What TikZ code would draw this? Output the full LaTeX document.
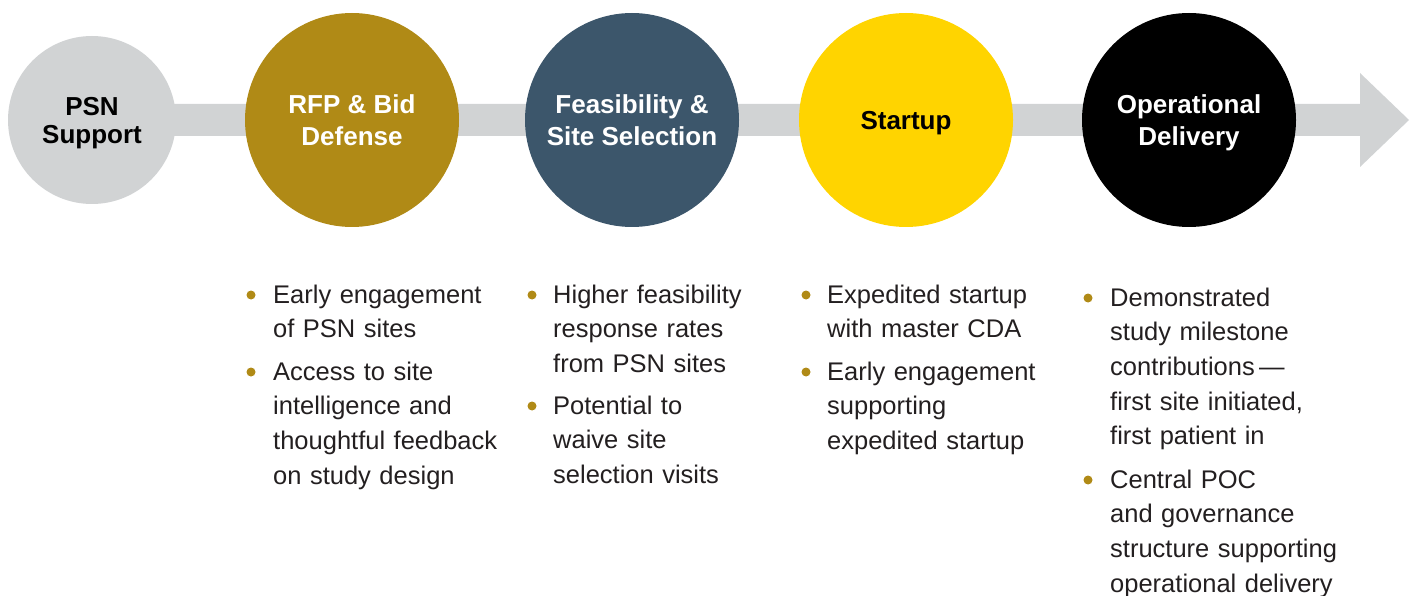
\documentclass[tikz,border=0pt]{standalone}
\usepackage{fontspec}
\setmainfont{Liberation Sans}
\definecolor{bargray}{HTML}{D1D3D4}
\definecolor{gold}{HTML}{B08A16}
\definecolor{slate}{HTML}{3C566B}
\definecolor{sunny}{HTML}{FFD400}
\definecolor{txt}{HTML}{231F20}
\begin{document}
\begin{tikzpicture}[x=1pt,y=-1pt,
  stage/.style={circle,minimum size=214pt,inner sep=0pt,align=center,text depth=0pt,
    font=\fontsize{26}{31.5}\selectfont\bfseries},
  item/.style={anchor=north west,inner sep=0pt,align=left,text width=260pt,
    text=txt,font=\fontsize{25.5}{34.6}\selectfont},
  dot/.style={circle,fill=gold,minimum size=9pt,inner sep=0pt}]
\useasboundingbox (0,0) rectangle (1416,596);
% arrow
\coordinate (bs) at (92,120);
\coordinate (be) at (1360,120);
\fill[bargray] (92,104) -- (1360,104) -- (1360,73) -- (1409,120) -- (1360,167) -- (1360,136) -- (92,136) -- cycle;
% stages
\node[stage,fill=bargray,minimum size=168pt,text=black,font=\fontsize{26}{28}\selectfont\bfseries] (psn) at (92,120) {PSN\\Support};
\node[stage,fill=gold,text=white] (rfp) at (352,120) {RFP \& Bid\\Defense};
\node[stage,fill=slate,text=white] (feas) at (632,120) {Feasibility \&\\Site Selection};
\node[stage,fill=sunny,text=black] (start) at (906,120) {Startup};
\node[stage,fill=black,text=white] (oper) at (1189,120) {Operational\\Delivery};
% column 1
\node[dot] (d11) at (251,295) {};
\node[item] (t11) at (273,283) {\rule{0pt}{20pt}Early engagement\\of PSN sites};
\node[dot] (d12) at (251,372) {};
\node[item] (t12) at (273,360) {\rule{0pt}{20pt}Access to site\\intelligence and\\thoughtful feedback\\on study design};
% column 2
\node[dot] (d21) at (532,295) {};
\node[item] (t21) at (553,283) {\rule{0pt}{20pt}Higher feasibility\\response rates\\from PSN sites};
\node[dot] (d22) at (532,406) {};
\node[item] (t22) at (553,394) {\rule{0pt}{20pt}Potential to\\waive site\\selection visits};
% column 3
\node[dot] (d31) at (806,295) {};
\node[item] (t31) at (827,283) {\rule{0pt}{20pt}Expedited startup\\with master CDA};
\node[dot] (d32) at (806,372) {};
\node[item] (t32) at (827,360) {\rule{0pt}{20pt}Early engagement\\supporting\\expedited startup};
% column 4
\node[dot] (d41) at (1088,298) {};
\node[item] (t41) at (1110,286) {\rule{0pt}{20pt}Demonstrated\\study milestone\\contributions\,—\\first site initiated,\\first patient in};
\node[dot] (d42) at (1088,480) {};
\node[item] (t42) at (1110,468) {\rule{0pt}{20pt}Central POC\\and governance\\structure supporting\\operational delivery};
\end{tikzpicture}
\end{document}
